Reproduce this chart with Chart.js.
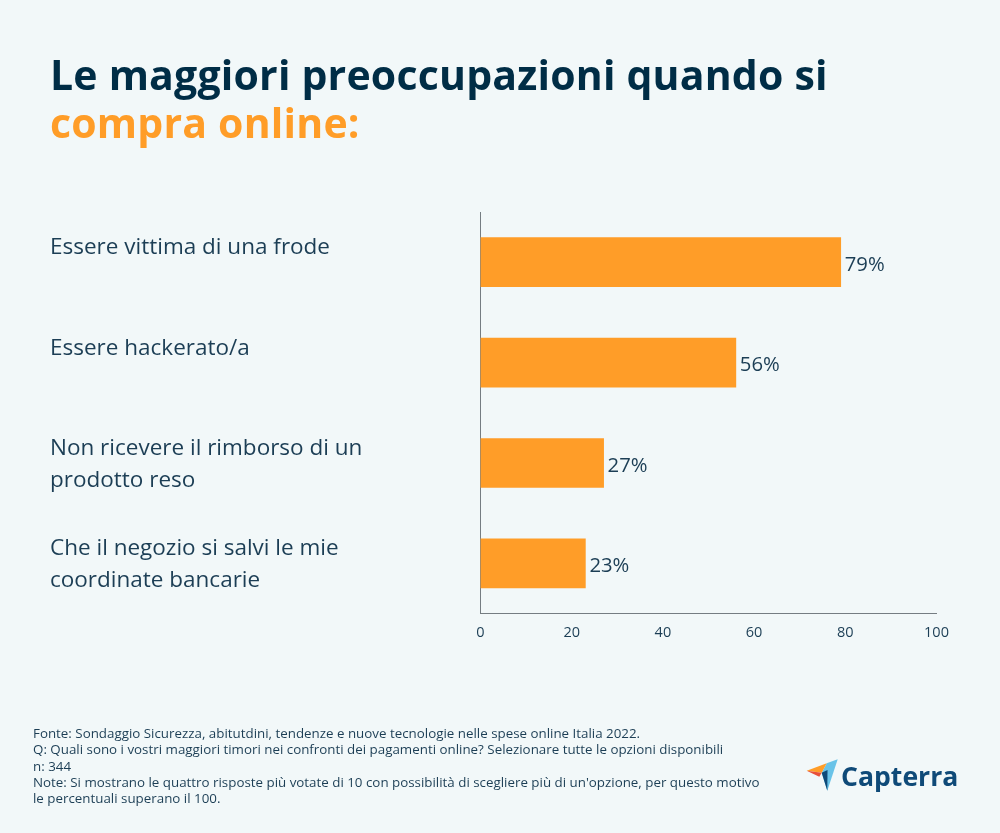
<!DOCTYPE html>
<html><head><meta charset="utf-8">
<style>
html,body{margin:0;padding:0;background:#f2f8f9;width:1000px;height:833px;overflow:hidden;position:relative;font-family:"Open Sans",sans-serif}
#c{position:absolute;left:0;top:0}
.t{position:absolute;left:50px;font-size:41px;font-weight:700;line-height:50px;color:#002d46;white-space:nowrap;letter-spacing:.2px}
.f{position:absolute;left:33px;top:725px;font-size:13.35px;line-height:16.3px;color:#1c3e55;white-space:nowrap}
.logo{position:absolute;left:841px;top:756px;font-size:26.6px;font-weight:700;color:#0f4a78;line-height:40px;font-family:"Open Sans"}
svg{position:absolute;left:806px;top:758px}
</style></head><body>
<canvas id="c" width="1000" height="833"></canvas>
<div class="t" style="top:49px">Le maggiori preoccupazioni quando si</div>
<div class="t" style="top:97px;color:#ff9d28">compra online:</div>
<div class="f">Fonte: Sondaggio Sicurezza, abitutdini, tendenze e nuove tecnologie nelle spese online Italia 2022.<br>Q: Quali sono i vostri maggiori timori nei confronti dei pagamenti online? Selezionare tutte le opzioni disponibili<br>n: 344<br>Note: Si mostrano le quattro risposte più votate di 10 con possibilità di scegliere più di un'opzione, per questo motivo<br>le percentuali superano il 100.</div>
<svg width="34" height="36" viewBox="0 0 34 36"><polygon points="20.7,5.3 31.7,1.3 21.3,32.7 15.7,14.7" fill="#69c3e8"/><polygon points="0.7,12.7 20.7,5.3 15.7,14.7" fill="#ff9d28"/><polygon points="15.7,14.7 21.5,12 21.3,32.7" fill="#0f4a78"/><polygon points="0.7,12.7 15.7,14.7 13.3,18.7" fill="#e8503a"/></svg>
<div class="logo">Capterra</div>
<script src="https://cdn.jsdelivr.net/npm/chart.js@4"></script>
<script>
const categories=[["Essere vittima di una frode"],["Essere hackerato/a"],["Non ricevere il rimborso di un","prodotto reso"],["Che il negozio si salvi le mie","coordinate bancarie"]];
const values=[79,56,27,23];
const xTicks=[0,20,40,60,80,100];
const valueLabels={id:'valueLabels',afterDatasetsDraw(ch){const g=ch.ctx,m=ch.getDatasetMeta(0);g.save();g.font='20.3px "Open Sans"';g.fillStyle='#1c3e55';g.textBaseline='middle';m.data.forEach((b,i)=>g.fillText(values[i]+'%',b.x+4,b.y+3));g.restore();}};
const catLabels={id:'catLabels',afterDraw(ch){const g=ch.ctx,y=ch.scales.y;g.save();g.font='22.5px "Open Sans"';g.fillStyle='#1c3e55';g.textBaseline='middle';categories.forEach((l,i)=>{const c=y.getPixelForValue(i);l.forEach((t,j)=>g.fillText(t,50,c-14.5+j*32));});g.restore();}};
new Chart(document.getElementById('c'),{type:'bar',
data:{labels:categories.map(l=>l.join(' ')),datasets:[{data:values,backgroundColor:'#ff9d28',barThickness:49,borderWidth:0}]},
plugins:[valueLabels,catLabels],
options:{indexAxis:'y',responsive:false,animation:false,devicePixelRatio:1,
layout:{padding:{left:480.5,top:212,right:63.5,bottom:180}},
plugins:{legend:{display:false},tooltip:{enabled:false}},
scales:{x:{min:0,max:100,afterBuildTicks(a){a.ticks=xTicks.map(v=>({value:v}));},grid:{display:false,drawTicks:false},border:{color:'#757d82',width:1},ticks:{color:'#1c3e55',font:{size:14.5,family:'"Open Sans"'},padding:11,maxRotation:0,callback:v=>v}},
y:{grid:{display:false,drawTicks:false},border:{color:'#757d82',width:1},ticks:{display:false}}}}});
</script></body></html>
